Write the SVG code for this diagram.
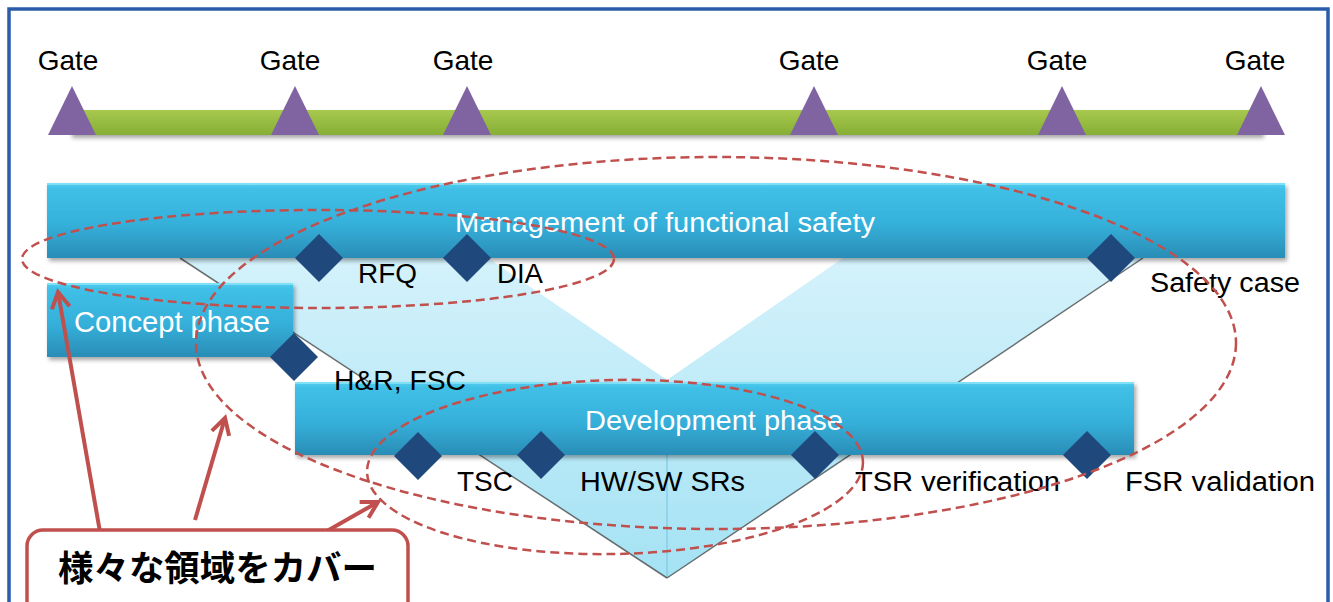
<svg xmlns="http://www.w3.org/2000/svg" width="1333" height="602" viewBox="0 0 1333 602">
<defs>
<style>
.gate{font-family:"Liberation Sans",Arial,sans-serif;font-size:28px;fill:#000;text-anchor:middle}
.lbl{font-family:"Liberation Sans",Arial,sans-serif;font-size:27px;fill:#000}
.bart{font-family:"Liberation Sans",Arial,sans-serif;fill:#fff}
.tri{fill:#8064A2}
.dia{fill:#1F497D}
.bar{fill:url(#barGrad);filter:url(#sh)}
.hl{fill:#8AE6FA;opacity:0.8}
.ell{fill:none;stroke:#C0504D;stroke-width:2.5;stroke-dasharray:9 5}
.arr{fill:none;stroke:#C0504D;stroke-width:4;marker-end:url(#ah)}
.edge{stroke:#404040;stroke-width:1.5;opacity:0.75}
</style>
<linearGradient id="barGrad" x1="0" y1="0" x2="0" y2="1">
<stop offset="0" stop-color="#55CCEE"/>
<stop offset="0.08" stop-color="#40C0E7"/>
<stop offset="0.55" stop-color="#35B0DA"/>
<stop offset="1" stop-color="#2A8DB6"/>
</linearGradient>
<linearGradient id="greenGrad" x1="0" y1="0" x2="0" y2="1">
<stop offset="0" stop-color="#A7C94E"/>
<stop offset="1" stop-color="#86AE35"/>
</linearGradient>
<linearGradient id="vGrad" gradientUnits="userSpaceOnUse" x1="0" y1="258" x2="0" y2="578">
<stop offset="0" stop-color="#D4F2FB"/>
<stop offset="1" stop-color="#A4E2F4"/>
</linearGradient>
<filter id="sh" x="-5%" y="-30%" width="110%" height="170%">
<feDropShadow dx="2" dy="3" stdDeviation="2" flood-color="#000" flood-opacity="0.35"/>
</filter>
<path id="dm" d="M0,-24 L24,0 L0,24 L-24,0 Z"/>
<marker id="ah" markerUnits="userSpaceOnUse" markerWidth="26" markerHeight="26" viewBox="0 0 26 26" refX="22" refY="13" orient="auto">
<path d="M6,4 L22,13 L6,22" fill="none" stroke="#C0504D" stroke-width="4" stroke-linejoin="miter"/>
</marker>
</defs>

<rect x="9" y="9" width="1319" height="620" fill="#fff" stroke="#2A5CAA" stroke-width="3.5"/>

<g id="timeline">
<rect x="70" y="110" width="1192" height="25" fill="url(#greenGrad)" filter="url(#sh)"/>
<g id="gate1"><polygon class="tri" points="72,86 96,135 48,135"/><text class="gate" x="68" y="70">Gate</text></g>
<g id="gate2"><polygon class="tri" points="295,86 319,135 271,135"/><text class="gate" x="290" y="70">Gate</text></g>
<g id="gate3"><polygon class="tri" points="467,86 491,135 443,135"/><text class="gate" x="463" y="70">Gate</text></g>
<g id="gate4"><polygon class="tri" points="814,86 838,135 790,135"/><text class="gate" x="809" y="70">Gate</text></g>
<g id="gate5"><polygon class="tri" points="1062,86 1086,135 1038,135"/><text class="gate" x="1057" y="70">Gate</text></g>
<g id="gate6"><polygon class="tri" points="1261,86 1285,135 1237,135"/><text class="gate" x="1255" y="70">Gate</text></g>
</g>

<g id="vshape">
<polygon points="180,258 488,258 667,380 667,578" fill="url(#vGrad)"/>
<polygon points="667,380 843,258 1143,258 667,578" fill="url(#vGrad)"/>
<line x1="667" y1="380" x2="667" y2="578" stroke="#74C3DE" stroke-width="1"/>
<line class="edge" x1="180" y1="258" x2="667" y2="578"/>
<line class="edge" x1="1143" y1="258" x2="667" y2="578"/>
</g>

<g id="mgmt">
<rect class="bar" x="47" y="183" width="1238" height="75"/>
<rect class="hl" x="47" y="183" width="1238" height="2"/>
<text class="bart" x="455" y="232" font-size="27" textLength="420" lengthAdjust="spacingAndGlyphs">Management of functional safety</text>
</g>

<g id="concept">
<rect class="bar" x="47" y="283" width="246" height="74"/>
<rect class="hl" x="47" y="283" width="246" height="2"/>
<text class="bart" x="74" y="332" font-size="29" textLength="196" lengthAdjust="spacingAndGlyphs">Concept phase</text>
</g>

<g id="dev">
<rect class="bar" x="295" y="382" width="839" height="73"/>
<rect class="hl" x="295" y="382" width="839" height="2"/>
<text class="bart" x="585" y="430" font-size="28" textLength="258" lengthAdjust="spacingAndGlyphs">Development phase</text>
</g>

<g id="milestones">
<g id="m-rfq"><use href="#dm" class="dia" x="319" y="258"/><text class="lbl" x="358" y="283" textLength="59" lengthAdjust="spacingAndGlyphs">RFQ</text></g>
<g id="m-dia"><use href="#dm" class="dia" x="467" y="258"/><text class="lbl" x="497" y="283" textLength="46" lengthAdjust="spacingAndGlyphs">DIA</text></g>
<g id="m-safety"><use href="#dm" class="dia" x="1111" y="258"/><text class="lbl" x="1150" y="292" textLength="150" lengthAdjust="spacingAndGlyphs">Safety case</text></g>
<g id="m-hr"><use href="#dm" class="dia" x="294" y="357"/><text class="lbl" x="334" y="390" textLength="132" lengthAdjust="spacingAndGlyphs">H&amp;R, FSC</text></g>
<g id="m-tsc"><use href="#dm" class="dia" x="418" y="456"/><text class="lbl" x="457" y="491" textLength="56" lengthAdjust="spacingAndGlyphs">TSC</text></g>
<g id="m-hwsw"><use href="#dm" class="dia" x="541" y="455"/><text class="lbl" x="580" y="491" textLength="165" lengthAdjust="spacingAndGlyphs">HW/SW SRs</text></g>
<g id="m-tsr"><use href="#dm" class="dia" x="815" y="455"/><text class="lbl" x="855" y="491" textLength="205" lengthAdjust="spacingAndGlyphs">TSR verification</text></g>
<g id="m-fsr"><use href="#dm" class="dia" x="1087" y="455"/><text class="lbl" x="1125" y="491" textLength="190" lengthAdjust="spacingAndGlyphs">FSR validation</text></g>
</g>

<g id="scopes">
<ellipse class="ell" cx="318" cy="259" rx="296" ry="49"/>
<ellipse class="ell" cx="716" cy="343" rx="520" ry="186"/>
<ellipse class="ell" cx="615" cy="467" rx="248" ry="87" transform="rotate(-1.2 615 467)"/>
</g>

<g id="connectors">
<line class="arr" x1="100" y1="532" x2="58" y2="292"/>
<line class="arr" x1="195" y1="520" x2="225" y2="418"/>
<line class="arr" x1="327" y1="531" x2="378" y2="502"/>
</g>

<g id="callout">
<rect x="27" y="530" width="381" height="100" rx="16" fill="#fff" stroke="#C0504D" stroke-width="3.5"/>
<text x="58" y="581" font-family="'Noto Sans CJK JP','Noto Sans CJK SC',sans-serif" font-weight="bold" font-size="35" fill="#000" textLength="319" lengthAdjust="spacingAndGlyphs">様々な領域をカバー</text>
</g>
</svg>
